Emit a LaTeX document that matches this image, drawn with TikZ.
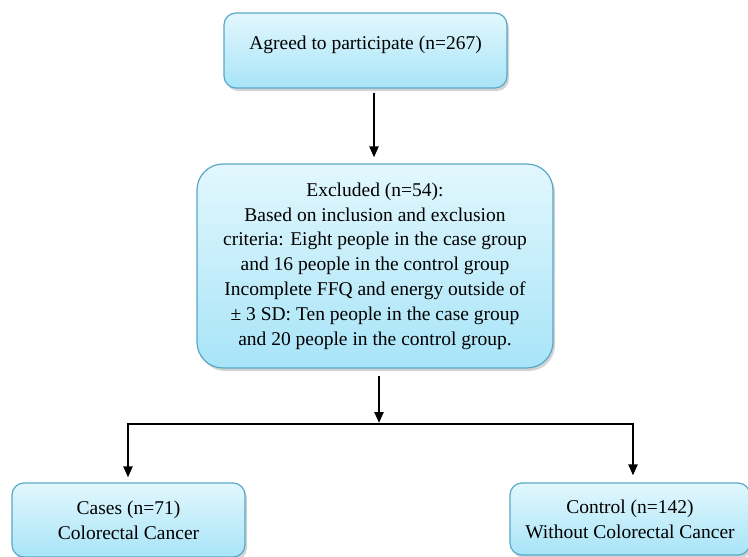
\documentclass[tikz,border=0pt]{standalone}
\usepackage{fontspec}
\setmainfont{Liberation Serif}
\usetikzlibrary{shadows,arrows.meta}
\definecolor{boxtop}{RGB}{226,247,253}
\definecolor{boxbot}{RGB}{168,228,248}
\definecolor{boxline}{RGB}{88,168,198}
\tikzset{
  flowbox/.style={draw=boxline, line width=1.2pt, top color=boxtop, bottom color=boxbot,
    align=center, font=\fontsize{19.5}{24.8}\selectfont, inner sep=0pt,
    drop shadow={opacity=0.35, shadow xshift=2pt, shadow yshift=-3pt}},
  conn/.style={line width=2.2pt, black},
  arr/.style={conn, -{Triangle[width=9pt,length=11pt]}}
}
\begin{document}
\begin{tikzpicture}[x=1pt,y=-1pt]
\useasboundingbox (0,0) rectangle (748,557);
\node[flowbox, rounded corners=12pt, minimum width=283pt, minimum height=75pt,
  text height=13pt, text depth=16pt] (top) at (365.5,50.5) {Agreed to participate (n=267)};
\node[flowbox, rounded corners=26pt, minimum width=356pt, minimum height=204pt] (mid) at (375,266)
  {Excluded (n=54):\\Based on inclusion and exclusion\\criteria: Eight people in the case group\\and 16 people in the control group\\Incomplete FFQ and energy outside of\\± 3 SD: Ten people in the case group\\and 20 people in the control group.};
\node[flowbox, rounded corners=12pt, minimum width=233pt, minimum height=74pt] (cases) at (128.5,520)
  {Cases (n=71)\\Colorectal Cancer};
\node[flowbox, rounded corners=12pt, minimum width=240pt, minimum height=72pt] (ctrl) at (630,519)
  {Control (n=142)\\Without Colorectal Cancer};
\coordinate (jL) at (128,424);
\coordinate (jM) at (379,424);
\coordinate (jR) at (633,424);
\draw[arr, shorten <=4pt, shorten >=6pt] (top.south -| 374,0) -- (mid.north -| 374,0);
\draw[arr, shorten <=7pt, shorten >=1pt] (mid.south -| jM) -- (jM);
\draw[conn] ([xshift=-1pt]jL) -- ([xshift=1pt]jR);
\draw[arr, shorten >=5pt] (jL) -- (cases.north -| jL);
\draw[arr, shorten >=7pt] (jR) -- (ctrl.north -| jR);
\end{tikzpicture}
\end{document}
